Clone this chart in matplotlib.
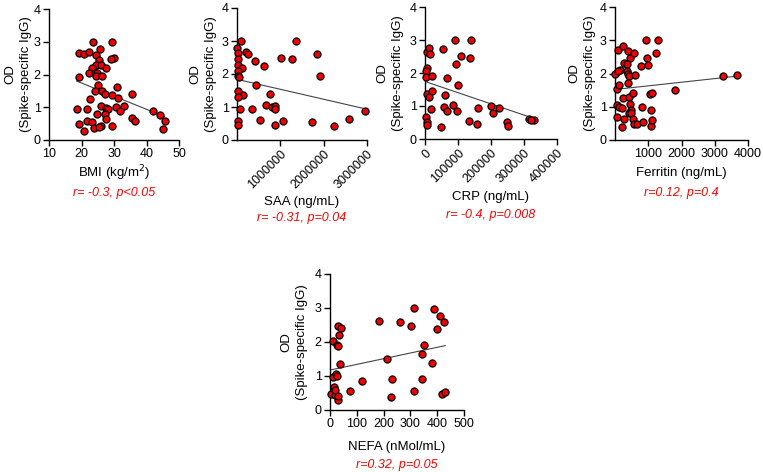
import numpy as np
import matplotlib
matplotlib.use("Agg")
import matplotlib.pyplot as plt
from matplotlib.ticker import FuncFormatter

plt.rcParams['font.family'] = ['Liberation Sans', 'DejaVu Sans']

# ---------------- data ----------------
bmi_x = [19.3, 20.9, 23.6, 29.4, 22.3, 25.6, 24.5, 25.4, 30.0, 29.0, 24.6, 26.0, 27.4, 23.2,
         22.4, 24.3, 24.8, 19.1, 24.4, 26.3, 25.2, 30.9, 24.2, 26.4, 27.1, 29.4, 31.2, 35.5,
         22.7, 18.5, 21.6, 25.9, 27.4, 28.2, 30.7, 33.0, 31.7, 27.2, 24.8, 42.1, 44.1, 45.6,
         45.0, 35.4, 36.4, 21.7, 23.2, 26.0, 27.4, 19.1, 20.9, 23.7, 25.3, 29.4]
bmi_y = [2.65, 2.62, 2.98, 2.98, 2.68, 2.78, 2.61, 2.45, 2.50, 2.47, 2.30, 2.29, 2.19, 2.19,
         2.06, 2.06, 2.04, 1.91, 1.94, 1.94, 1.67, 1.61, 1.49, 1.50, 1.40, 1.37, 1.29, 1.40,
         1.24, 0.94, 0.94, 1.04, 0.98, 0.96, 1.02, 1.03, 0.89, 0.79, 0.79, 0.89, 0.76, 0.58,
         0.34, 0.68, 0.58, 0.59, 0.54, 0.44, 0.63, 0.48, 0.28, 0.36, 0.39, 0.43]

saa_x = [92000, 0, 20000, 20000, 20000, 115000, 20000, 15000, 50000, 215000, 246000, 420000,
         615000, 1015000, 1260000, 1370000, 1850000, 1910000, 446000, 15000, 130000, 15000,
         770000, 660000, 810000, 885000, 870000, 354000, 77000, 20000, 20000, 520000, 885000,
         1050000, 1740000, 2230000, 2590000, 2950000]
saa_y = [2.99, 2.78, 2.63, 2.45, 2.28, 2.18, 2.08, 1.95, 1.90, 2.68, 2.61, 2.40, 2.25, 2.50,
         2.45, 2.99, 2.60, 1.93, 1.67, 1.50, 1.35, 1.29, 1.39, 1.05, 1.01, 1.03, 0.95, 0.93,
         0.93, 0.59, 0.46, 0.61, 0.46, 0.59, 0.54, 0.43, 0.63, 0.88]

crp_x = [5000, 13000, 15000, 7000, 4000, 4000, 22000, 6000, 20000, 11000, 17000, 2000, 5000,
         7000, 48600, 56000, 90000, 139000, 94000, 109000, 137000, 99000, 66000, 62000, 59000,
         66000, 84000, 96000, 132000, 157000, 162000, 200000, 207000, 223000, 247000, 250000,
         316000, 329000, 321000]
crp_y = [2.63, 2.75, 2.58, 2.16, 2.07, 1.88, 1.90, 1.37, 1.46, 1.26, 0.90, 0.66, 0.53, 0.43,
         0.36, 2.72, 3.00, 3.00, 2.26, 2.51, 2.46, 1.65, 1.86, 1.33, 0.97, 0.86, 1.04, 0.86,
         0.56, 0.44, 0.95, 1.00, 0.78, 0.93, 0.52, 0.39, 0.60, 0.59, 0.57]

fer_x = [0, 80, 250, 150, 80, 380, 450, 280, 350, 350, 400, 420, 570, 590, 400, 70, 130, 230,
         430, 540, 920, 1300, 1240, 970, 990, 770, 1050, 1110, 1810, 3240, 3660, 50, 130, 200,
         450, 490, 420, 490, 820, 1090, 50, 280, 200, 540, 570, 670, 840, 1070, 1110]
fer_y = [1.98, 2.72, 2.82, 2.10, 2.07, 2.68, 2.48, 2.32, 2.28, 2.08, 1.98, 1.92, 2.62, 1.95,
         1.72, 1.52, 1.65, 1.26, 1.30, 1.42, 3.02, 3.02, 2.62, 2.47, 2.25, 2.23, 1.38, 1.42,
         1.50, 1.92, 1.96, 1.05, 1.00, 0.95, 1.08, 0.90, 0.82, 0.80, 1.00, 0.90, 0.70, 0.62,
         0.40, 0.62, 0.48, 0.48, 0.54, 0.42, 0.60]

nefa_x = [2.5, 10, 12, 15, 19, 22, 25, 25, 31, 31, 40, 33, 37, 28, 31, 19, 74, 118, 182, 213,
          233, 229, 260, 304, 315, 313, 342, 350, 342, 382, 387, 400, 412, 426, 419, 430]
nefa_y = [0.46, 2.04, 0.98, 0.69, 0.44, 1.06, 1.00, 1.90, 1.87, 2.46, 2.41, 2.21, 1.35, 0.29,
          0.41, 0.59, 0.56, 0.86, 2.63, 1.49, 0.92, 0.39, 2.59, 2.46, 2.99, 0.57, 1.66, 1.90,
          0.92, 1.37, 2.97, 2.38, 2.77, 2.58, 0.47, 0.53]

# ---------------- layout ----------------
W, H = 763, 472
fig = plt.figure(figsize=(W / 100, H / 100), dpi=100)

def make_ax(x0, y0, x1, y1):
    return fig.add_axes([x0 / W, 1 - y1 / H, (x1 - x0) / W, (y1 - y0) / H])

int_fmt = FuncFormatter(lambda v, p: f"{int(round(v))}")

panels = [
    dict(box=(49, 9, 179, 140), x=bmi_x, y=bmi_y, xlim=(10, 50), xticks=[10, 20, 30, 40, 50],
         rot=0, xlabel='BMI (kg/m$^2$)', xl_y=173, stat='r= -0.3, p<0.05', st_y=193, yl_x=18),
    dict(box=(237, 8, 367, 140), x=saa_x, y=saa_y, xlim=(0, 3000000),
         xticks=[1000000, 2000000, 3000000], rot=45, xlabel='SAA (ng/mL)', xl_y=202,
         stat='r= -0.31, p=0.04', st_y=218, yl_x=203),
    dict(box=(425, 7, 557, 139), x=crp_x, y=crp_y, xlim=(0, 400000),
         xticks=[0, 100000, 200000, 300000, 400000], rot=45, xlabel='CRP (ng/mL)', xl_y=197,
         stat='r= -0.4, p=0.008', st_y=215, yl_x=390),
    dict(box=(615, 7, 748, 140), x=fer_x, y=fer_y, xlim=(0, 4000),
         xticks=[1000, 2000, 3000, 4000], rot=0, xlabel='Ferritin (ng/mL)', xl_y=173,
         stat='r=0.12, p=0.4', st_y=193, yl_x=582),
    dict(box=(330, 274, 464, 410), x=nefa_x, y=nefa_y, xlim=(0, 500),
         xticks=[0, 100, 200, 300, 400, 500], rot=0, xlabel='NEFA (nMol/mL)', xl_y=447,
         stat='r=0.32, p=0.05', st_y=465, yl_x=294),
]

for p in panels:
    x0, y0, x1, y1 = p['box']
    ax = make_ax(x0, y0, x1, y1)
    xs = np.array(p['x'], dtype=float)
    ys = np.array(p['y'], dtype=float)
    ax.scatter(xs, ys, s=26, facecolor='#f00000', edgecolor='black', linewidth=0.9,
               zorder=3, clip_on=False)
    k, b = np.polyfit(xs, ys, 1)
    xx = np.array([xs.min(), xs.max()])
    ax.plot(xx, k * xx + b, color='#444444', lw=0.8, zorder=2)
    ax.set_xlim(*p['xlim'])
    ax.set_ylim(0, 4)
    ax.set_yticks([0, 1, 2, 3, 4])
    ax.set_xticks(p['xticks'])
    ax.xaxis.set_major_formatter(int_fmt)
    for s in ('top', 'right'):
        ax.spines[s].set_visible(False)
    for s in ('left', 'bottom'):
        ax.spines[s].set_linewidth(1.0)
    ax.tick_params(direction='out', length=4, width=1.0, labelsize=9, pad=2)
    if p['rot']:
        for lab in ax.get_xticklabels():
            lab.set_rotation(45)
            lab.set_ha('right')
            lab.set_va('top')
            lab.set_rotation_mode('anchor')
    cx = (x0 + x1) / 2
    fig.text(cx / W, 1 - p['xl_y'] / H, p['xlabel'], ha='center', va='center', fontsize=9.5)
    fig.text(cx / W, 1 - p['st_y'] / H, p['stat'], ha='center', va='center', fontsize=9,
             color='#ff0000', style='italic')
    fig.text(p['yl_x'] / W, 1 - ((y0 + y1) / 2) / H, 'OD\n(Spike-specific IgG)', rotation=90,
             ha='center', va='center', fontsize=9.5, multialignment='center', linespacing=1.35)

fig.savefig('out.png', dpi=100)
